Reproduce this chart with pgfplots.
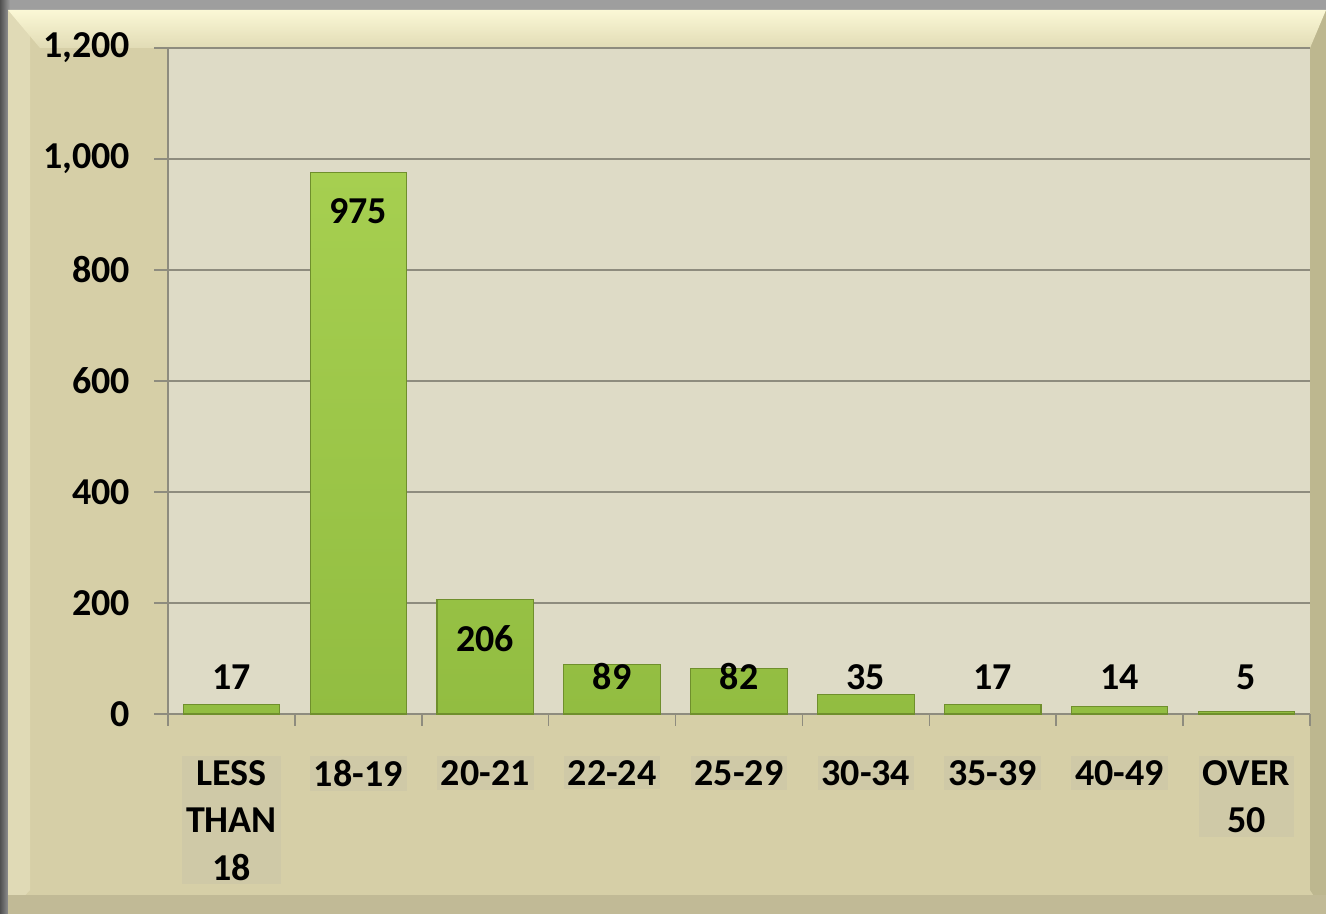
\documentclass[border=0pt]{standalone}
\usepackage{pgfplots}
\pgfplotsset{compat=1.18}
\usepackage{fontspec}
\setmainfont{Carlito}
\definecolor{framegrey}{HTML}{9E9E9E}
\definecolor{darkgrey}{HTML}{505050}
\definecolor{panel}{HTML}{D6CFA7}
\definecolor{paneltop}{HTML}{FBF8D6}
\definecolor{panelright}{HTML}{BDB78F}
\definecolor{panelleft}{HTML}{E0DAB6}
\definecolor{plotbg}{HTML}{DEDBC6}
\definecolor{gridc}{HTML}{8E8C7E}
\definecolor{bartop}{HTML}{A6CF50}
\definecolor{barbot}{HTML}{92BD41}
\definecolor{bardraw}{HTML}{6F8F2C}
\definecolor{labbox}{HTML}{CFC9A7}
\begin{document}
\begin{tikzpicture}
\begin{scope}[x=0.5pt,y=0.5pt]
\fill[framegrey] (0,0) rectangle (1326,914);
\shade[left color=darkgrey,right color=framegrey] (0,0) rectangle (10,914);
\fill[panel] (8,0) rectangle (1326,904);
\fill[panelleft] (8,904) -- (30,882) -- (30,24) -- (8,0) -- cycle;
\fill[panelright] (1326,904) -- (1310,880) -- (1310,24) -- (1326,0) -- cycle;
\shade[top color=paneltop,bottom color=panel!70!paneltop] (8,904) -- (1326,904) -- (1310,866) -- (40,866) -- cycle;
\fill[panel!90!black] (8,0) rectangle (1326,19);
\end{scope}
\begin{axis}[
  at={(84pt,100pt)}, anchor=south west,
  scale only axis,
  width=571pt, height=333pt,
  xmin=-0.5, xmax=8.5,
  ymin=0, ymax=1200,
  axis lines*=left,
  axis line style={gridc, line width=0.8pt},
  axis background/.style={fill=plotbg},
  ytick={0,200,...,1200},
  ymajorgrids,
  grid style={gridc, line width=1pt},
  xtick={0,...,8},
  xticklabels={{LESS\\THAN\\18},18-19,20-21,22-24,25-29,30-34,35-39,40-49,{OVER\\50}},
  minor xtick={-0.5,0.5,...,8.5},
  major x tick style={draw=none},
  minor x tick style={gridc, line width=0.8pt},
  y tick style={gridc, line width=0.8pt},
  tick align=outside,
  major tick length=7pt,
  minor tick length=6pt,
  /pgf/number format/assume math mode=true,
  /pgf/number format/1000 sep={,},
  yticklabel style={font=\fontsize{19}{21}\selectfont\bfseries, xshift=-8.5pt},
  xticklabel style={font=\fontsize{19}{23.7}\selectfont\bfseries, align=center,
     fill=labbox, inner sep=2pt, yshift=-14pt, anchor=north},
  clip=false,
]
\addplot[ybar, bar width=0.76, top color=bartop, bottom color=barbot, draw=bardraw, line width=0.6pt]
  coordinates {(0,17) (1,975) (2,206) (3,89) (4,82) (5,35) (6,17) (7,14) (8,5)};
\foreach \i/\v/\p in {0/17/67, 1/975/906, 2/206/135, 3/89/67, 4/82/67, 5/35/67, 6/17/67, 7/14/67, 8/5/67} {
  \edef\tmp{\noexpand\node[font=\noexpand\fontsize{19}{21}\noexpand\selectfont\noexpand\bfseries] at (axis cs:\i,\p) {\v};}
  \tmp
}
\end{axis}
\pgfresetboundingbox
\useasboundingbox (0,0) rectangle (663pt,457pt);
\end{tikzpicture}
\end{document}
